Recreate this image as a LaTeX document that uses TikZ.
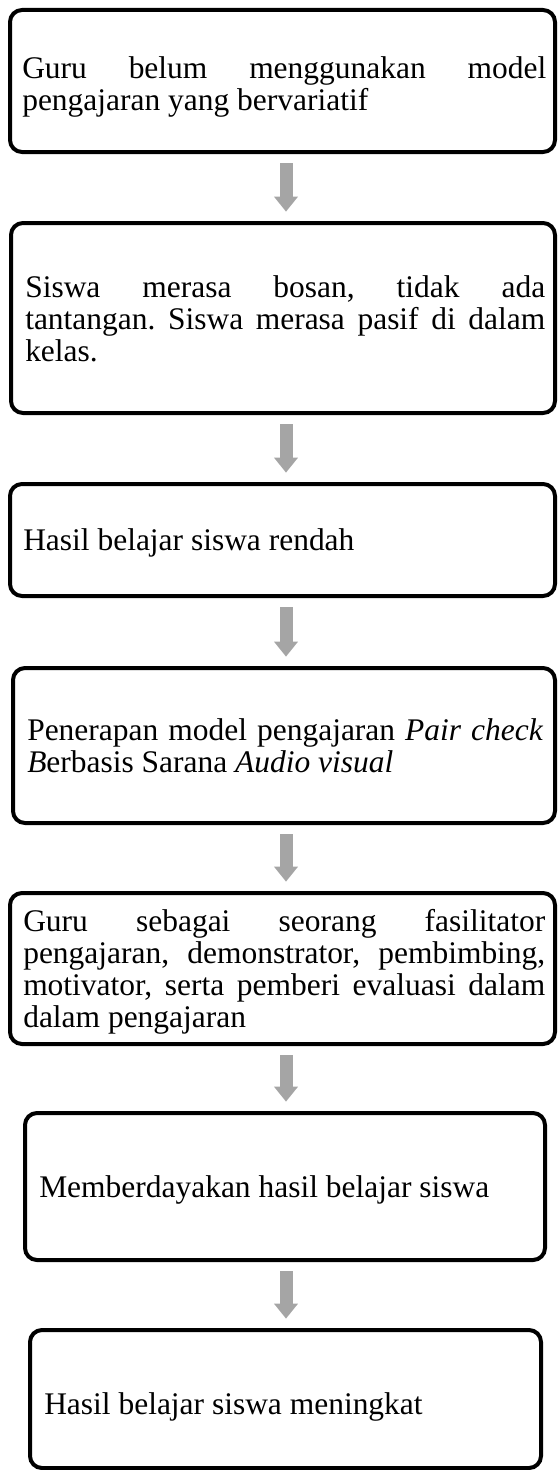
\documentclass[tikz,border=0pt]{standalone}
\usepackage{fontspec}
\setmainfont{Liberation Serif}
\usetikzlibrary{arrows.meta,calc}
\definecolor{arrowgray}{HTML}{A5A5A5}
\frenchspacing
\newdimen\pxu \pxu=0.75pt
% justified line and natural line
\newcommand\jline[1]{\hbox to\hsize{\spaceskip=\fontdimen2\font plus 1fil\relax #1}}
\newcommand\nline[1]{\hbox{#1}}
\newcommand\mkbox[5]{\node[box, minimum width={(#4-#2)*0.75pt}, minimum height={(#5-#3)*0.75pt}] (#1) at ({(#2+#4)/2},{(#3+#5)/2}) {};}
\begin{document}
\begin{tikzpicture}[x=0.75pt,y=-0.75pt,
  box/.style={draw, line width=3pt, rounded corners=9pt, inner sep=0pt},
  txt/.style={anchor=base west, inner sep=0pt, font=\fontsize{23.6pt}{24pt}\selectfont},
  flow/.style={draw=arrowgray, line width=9.75pt, -{Triangle[width=17.25pt,length=11.25pt]}}]
\useasboundingbox (0,0) rectangle (557,1470);
\coordinate (ax) at (286,0);
% boxes
\mkbox{b1}{10}{10}{555}{152}
\mkbox{b2}{11}{223}{555}{413}
\mkbox{b3}{10}{484}{555}{596}
\mkbox{b4}{13}{668}{555}{823}
\mkbox{b5}{10}{893}{555}{1044}
\mkbox{b6}{25}{1113}{545}{1260}
\mkbox{b7}{30}{1330}{541}{1468}
% texts (anchored at the baseline of their first line)
\node[txt] (t1) at (22,79) {\vtop{\hsize=524\pxu
  \jline{Guru belum menggunakan model}
  \nline{pengajaran yang bervariatif}}};
\node[txt] (t2) at (25,297) {\vtop{\hsize=520\pxu
  \jline{Siswa merasa bosan, tidak ada}
  \jline{tantangan. Siswa merasa pasif di dalam}
  \nline{kelas.}}};
\node[txt] (t3) at (23,550) {Hasil belajar siswa rendah};
\node[txt] (t4) at (27,740) {\vtop{\hsize=516\pxu
  \jline{Penerapan model pengajaran \textit{Pair check}}
  \nline{\textit{B}erbasis Sarana \textit{Audio visual}}}};
\node[txt] (t5) at (23,931) {\vtop{\hsize=522\pxu
  \jline{Guru sebagai seorang fasilitator}
  \jline{pengajaran, demonstrator, pembimbing,}
  \jline{motivator, serta pemberi evaluasi dalam}
  \nline{dalam pengajaran}}};
\node[txt] (t6) at (39,1197) {Memberdayakan hasil belajar siswa};
\node[txt] (t7) at (44,1414) {Hasil belajar siswa meningkat};
% arrows
\draw[flow] ([yshift=-7pt]b1.south -| ax) -- ([yshift=7pt]b2.north -| ax);
\draw[flow] ([yshift=-7pt]b2.south -| ax) -- ([yshift=7pt]b3.north -| ax);
\draw[flow] ([yshift=-7pt]b3.south -| ax) -- ([yshift=7pt]b4.north -| ax);
\draw[flow] ([yshift=-7pt]b4.south -| ax) -- ([yshift=7pt]b5.north -| ax);
\draw[flow] ([yshift=-7pt]b5.south -| ax) -- ([yshift=7pt]b6.north -| ax);
\draw[flow] ([yshift=-7pt]b6.south -| ax) -- ([yshift=7pt]b7.north -| ax);
\end{tikzpicture}
\end{document}
